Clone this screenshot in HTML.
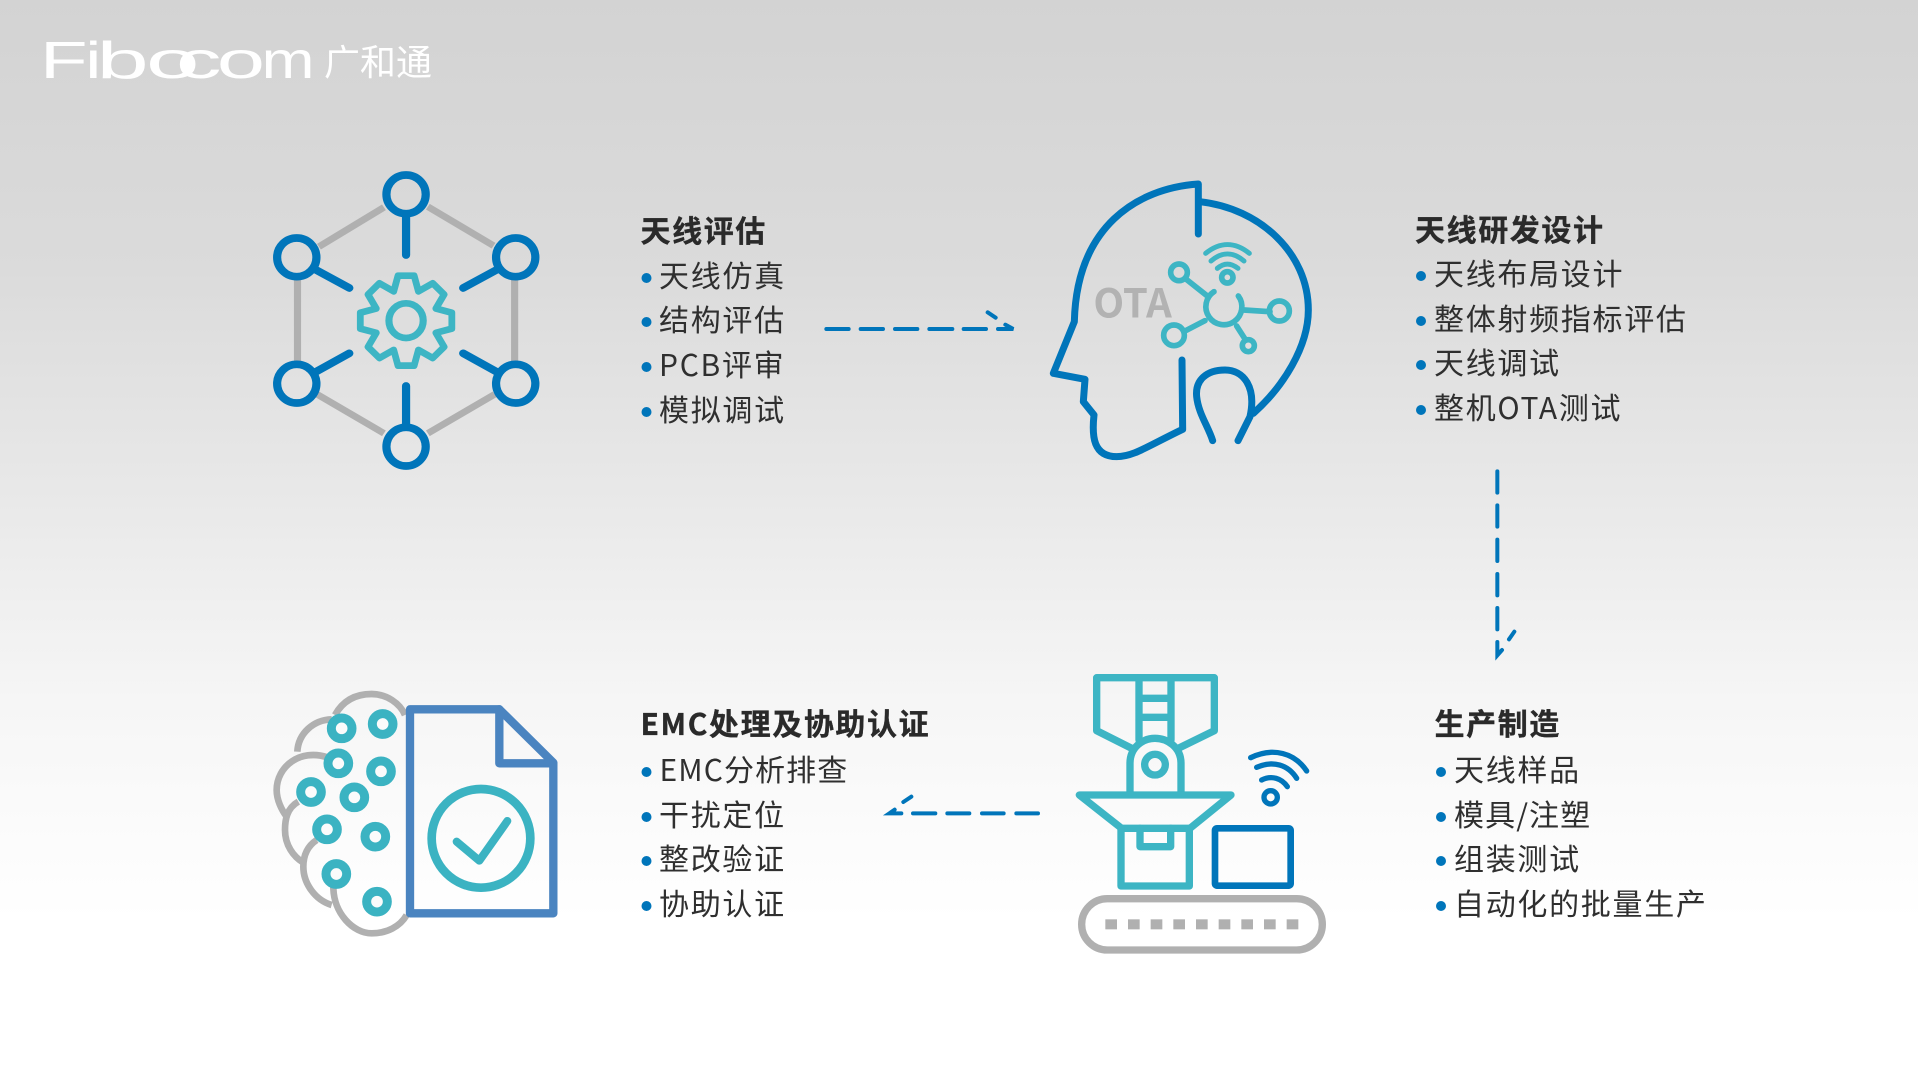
<!DOCTYPE html>
<html lang="zh"><head><meta charset="utf-8"><title>Fibocom</title>
<style>
html,body{margin:0;padding:0;width:1918px;height:1082px;overflow:hidden}
svg{display:block}
text{font-family:"Noto Sans CJK SC","Liberation Sans",sans-serif}
.t{font-size:30px;font-weight:700;fill:#2a2a2a;letter-spacing:1.6px;stroke:#2a2a2a;stroke-width:.35px}
.b{font-size:30px;fill:#2f2f2f;letter-spacing:1.7px}
.n{letter-spacing:1.1px}
.d{fill:#0075ba}
.l{font-size:52px;fill:#fff;font-family:"Liberation Sans",sans-serif}
</style></head><body>
<svg width="1918" height="1082" viewBox="0 0 1918 1082" xmlns="http://www.w3.org/2000/svg">
<defs><linearGradient id="bg" x1="0" y1="0" x2="0" y2="1">
<stop offset="0" stop-color="#d3d3d3"/><stop offset=".25" stop-color="#dbdbdb"/><stop offset=".45" stop-color="#e8e8e8"/><stop offset=".65" stop-color="#f6f6f6"/><stop offset=".85" stop-color="#ffffff"/><stop offset="1" stop-color="#ffffff"/></linearGradient></defs>
<rect width="1918" height="1082" fill="url(#bg)"/>

<!-- logo -->
<text class="l" transform="translate(40,78) scale(1.5,1)">F</text>
<text class="l" transform="translate(85.2,78) scale(1.4,1)">i</text>
<text class="l" transform="translate(96.6,78) scale(1.8,1)">b</text>
<text class="l" transform="translate(146,78) scale(1.85,1)">o</text>
<text class="l" transform="translate(176,78) scale(1.75,1)">c</text>
<text class="l" transform="translate(216.7,78) scale(1.67,1)">o</text>
<text class="l" transform="translate(261.6,78) scale(1.22,1)">m</text>
<text x="324" y="75" font-size="36" fill="#fff">广和通</text>

<!-- icon 1 -->
<g transform="scale(.35714,.33333)" fill="none" stroke-linecap="round">
<g stroke="#b0b0b0" stroke-width="20" stroke-linecap="butt">
<path d="M1075 622L893 740M1198 620L1382 737M1441 840V1085M833 840V1085M888 1183L1075 1300M1198 1300L1385 1183"/>
</g>
<g stroke="#0075ba" stroke-width="23">
<ellipse cx="1137" cy="583" rx="55" ry="58"/><ellipse cx="831" cy="772" rx="55" ry="58"/><ellipse cx="1444" cy="772" rx="55" ry="58"/><ellipse cx="831" cy="1151" rx="55" ry="58"/><ellipse cx="1444" cy="1151" rx="55" ry="58"/><ellipse cx="1137" cy="1340" rx="55" ry="58"/>
<path d="M1137 650V765M1137 1158V1275M885 810L978 864M1390 810L1297 864M885 1115L978 1060M1390 1115L1297 1060"/>
</g>
<g stroke="#3db5c4" stroke-width="20" stroke-linejoin="round">
<g transform="translate(1137,962) scale(.95,1)"><path d="M-23.8-134.9L23.8-134.9L36.4-87.8L78.6-112.2L112.2-78.6L87.8-36.4L134.9-23.8L134.9 23.8L87.8 36.4L112.2 78.6L78.6 112.2L36.4 87.8L23.8 134.9L-23.8 134.9L-36.4 87.8L-78.6 112.2L-112.2 78.6L-87.8 36.4L-134.9 23.8L-134.9-23.8L-87.8-36.4L-112.2-78.6L-78.6-112.2L-36.4-87.8Z"/></g>
<ellipse cx="1137" cy="962" rx="48" ry="52"/>
</g>
</g>

<!-- icon 2 head -->
<g transform="translate(1020,160) scale(.33333)" fill="none" stroke-linecap="round" stroke-linejoin="round">
<g stroke="#0075ba" stroke-width="21">
<path d="M535 222V72C350 85 170 200 163 485L100 640L195 658L190 725L222 765C215 830 220 890 290 890C340 890 380 860 488 808L486 600"/>
<path d="M540 125C720 145 865 280 865 450C865 560 790 680 700 760"/>
<path d="M654 842L690 770C710 680 670 630 615 630C560 630 525 660 530 710C535 760 565 800 578 842"/>
</g>
<g stroke="#3db5c4" stroke-width="17">
<path d="M582 395A54 54 0 1 0 655 408"/>
<circle cx="477" cy="337" r="25"/><circle cx="462" cy="526" r="31"/><circle cx="778" cy="453" r="30"/><circle cx="685" cy="557" r="18"/><circle cx="622" cy="352" r="17"/>
<path d="M495 355L562 408M495 513L555 482M672 450L750 455M650 498L675 537"/>
<path d="M557 280C600 245 645 245 688 280M573 303C605 275 640 275 672 303M592 325C612 308 632 308 654 325" stroke-width="15"/>
</g>
<text x="220" y="472" font-size="120" font-weight="700" fill="#b2b2b2" stroke="none">OTA</text>
</g>

<!-- icon 3 brain/doc -->
<g transform="translate(250,670) scale(.33333)" fill="none" stroke-linecap="round" stroke-linejoin="round">
<g stroke="#b0b0b0" stroke-width="20" stroke-linecap="butt">
<path d="M255 135C280 90 320 72 365 72C410 72 450 100 465 135"/>
<path d="M245 148C190 150 145 190 142 245"/>
<path d="M232 262C150 235 80 290 80 360C80 390 95 420 110 440"/>
<path d="M145 395C110 415 105 450 105 480C105 525 130 560 160 578"/>
<path d="M200 510C170 530 160 560 160 590C160 640 195 690 245 705"/>
<path d="M250 650C250 730 310 790 365 790C410 790 450 770 470 735"/>
</g>
<g stroke="#3bb3c2" stroke-width="27" fill="#fbfbfb">
<circle cx="275" cy="175" r="31"/><circle cx="398" cy="162" r="31"/><circle cx="265" cy="280" r="31"/><circle cx="393" cy="304" r="31"/><circle cx="183" cy="366" r="31"/><circle cx="313" cy="382" r="31"/><circle cx="231" cy="478" r="31"/><circle cx="376" cy="500" r="31"/><circle cx="259" cy="612" r="31"/><circle cx="381" cy="695" r="31"/>
</g>
<g stroke="#4a84c0" stroke-width="25">
<path d="M480 118H748L910 278V730H480Z"/><path d="M748 118V280H910"/>
</g>
<circle cx="693" cy="505" r="148" stroke="#3bb3c2" stroke-width="26"/>
<path d="M620 515L688 572L772 453" stroke="#3bb3c2" stroke-width="24"/>
</g>

<!-- icon 4 robot -->
<g transform="translate(1060,660) scale(.33333)" fill="none" stroke-linecap="round" stroke-linejoin="round">
<g stroke="#3db5c4" stroke-width="22">
<path d="M215 265L110 212V53H463V212L355 265"/>
<path d="M237 53V240M333 53V240M237 115H333M237 172H333"/>
<path d="M210 400V310C210 260 250 235 285 235C320 235 363 260 363 310V400"/>
<circle cx="285" cy="314" r="31"/>
<path d="M58 405H513L390 505H185Z"/>
<path d="M183 505V678H388V505M240 505V560H332V505"/>
</g>
<g stroke="#0075ba">
<rect x="465" y="505" width="227" height="172" rx="6" stroke-width="20"/>
<circle cx="632" cy="412" r="20" stroke-width="16"/>
<path d="M572 293C640 260 705 280 740 333M590 322C640 300 685 315 710 355M605 360C635 345 665 355 682 380" stroke-width="16"/>
</g>
<rect x="65" y="716" width="722" height="154" rx="77" stroke="#b0b0b0" stroke-width="22"/>
<g fill="#b0b0b0" stroke="none"><rect x="136" y="778" width="35" height="30"/><rect x="204" y="778" width="35" height="30"/><rect x="272" y="778" width="35" height="30"/><rect x="340" y="778" width="35" height="30"/><rect x="408" y="778" width="35" height="30"/><rect x="476" y="778" width="35" height="30"/><rect x="544" y="778" width="35" height="30"/><rect x="612" y="778" width="35" height="30"/><rect x="680" y="778" width="35" height="30"/></g>
</g>

<!-- arrows -->
<g transform="translate(620,200) scale(.33333)" fill="none" stroke="#0075ba" stroke-width="12" stroke-linecap="round">
<path d="M619 387H686M722 387H789M825 387H892M928 387H997M1031 387H1098M1134 387H1180L1156 374M1103 337L1127 353"/>
</g>
<g transform="translate(1400,200) scale(.33333)" fill="none" stroke="#0075ba" stroke-width="12" stroke-linecap="round">
<path d="M292 814V878M292 916V980M292 1019V1083M292 1122V1186M292 1224V1288M292 1326V1366L306 1350M327 1318L343 1295"/>
</g>
<g transform="translate(620,690) scale(.33333)" fill="none" stroke="#0075ba" stroke-width="12" stroke-linecap="round">
<path d="M1254 370H1189M1151 370H1086M1048 370H982M946 370H879M844 370H808L824 359M850 336L874 320"/>
</g>

<!-- text 1 -->
<text class="t" x="640.5" y="242">天线评估</text>
<circle class="d" cx="646.5" cy="278" r="5"/><text class="b" x="659" y="287">天线仿真</text>
<circle class="d" cx="646.5" cy="322" r="5"/><text class="b" x="659" y="331">结构评估</text>
<circle class="d" cx="646.5" cy="367" r="5"/><text class="b" x="659" y="376">PCB评审</text>
<circle class="d" cx="646.5" cy="412" r="5"/><text class="b" x="659" y="421">模拟调试</text>
<!-- text 2 -->
<text class="t" x="1415" y="241">天线研发设计</text>
<circle class="d" cx="1421" cy="276" r="5"/><text class="b" x="1434" y="285">天线布局设计</text>
<circle class="d" cx="1421" cy="321" r="5"/><text class="b" x="1434" y="330">整体射频指标评估</text>
<circle class="d" cx="1421" cy="365" r="5"/><text class="b" x="1434" y="374">天线调试</text>
<circle class="d" cx="1421" cy="410" r="5"/><text class="b" x="1434" y="419">整机OTA<tspan dx="0">测试</tspan></text>
<!-- text 3 -->
<text class="t" x="640.5" y="735">EMC处理及协助认证</text>
<circle class="d" cx="646.5" cy="772" r="5"/><text class="b n" x="659.5" y="781">EMC分析排查</text>
<circle class="d" cx="646.5" cy="817" r="5"/><text class="b" x="659" y="826">干扰定位</text>
<circle class="d" cx="646.5" cy="861" r="5"/><text class="b" x="659" y="870">整改验证</text>
<circle class="d" cx="646.5" cy="906" r="5"/><text class="b" x="659" y="915">协助认证</text>
<!-- text 4 -->
<text class="t" x="1434.5" y="735">生产制造</text>
<circle class="d" cx="1441" cy="772" r="5"/><text class="b" x="1454" y="781">天线样品</text>
<circle class="d" cx="1441" cy="817" r="5"/><text class="b n" x="1454" y="826">模具/注塑</text>
<circle class="d" cx="1441" cy="861" r="5"/><text class="b" x="1454" y="870">组装测试</text>
<circle class="d" cx="1441" cy="906" r="5"/><text class="b" x="1454" y="915">自动化的批量生产</text>
</svg>
</body></html>
